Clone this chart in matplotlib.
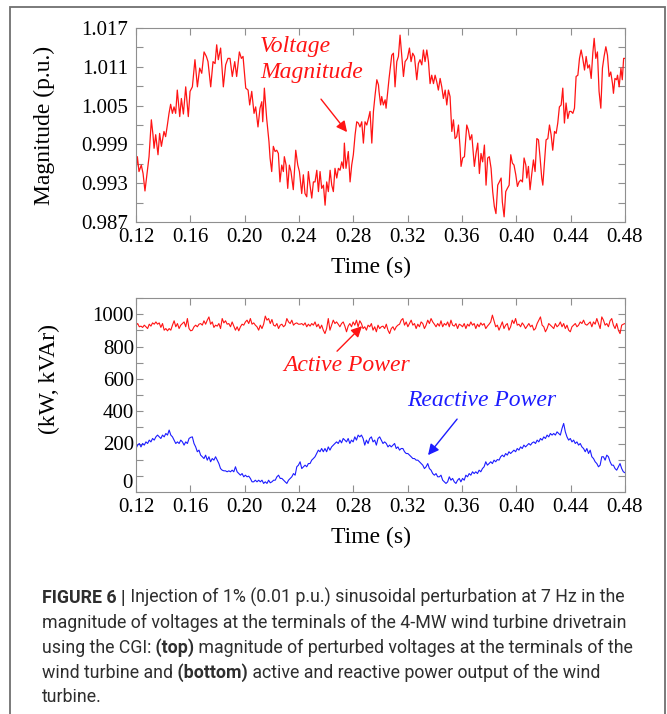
import numpy as np
import matplotlib
matplotlib.use("Agg")
import matplotlib.pyplot as plt
from matplotlib.ticker import FixedLocator, MultipleLocator, FormatStrFormatter
from matplotlib.patches import Rectangle
from matplotlib.transforms import ScaledTranslation

# ---- data ----
# top panel: voltage magnitude (p.u.)
t_volt = [
    0.1200, 0.1210, 0.1222, 0.1239, 0.1252, 0.1266, 0.1283, 0.1296, 0.1313, 0.1325,
    0.1333, 0.1345, 0.1362, 0.1374, 0.1387, 0.1406, 0.1418, 0.1431, 0.1443, 0.1455,
    0.1468, 0.1480, 0.1492, 0.1504, 0.1522, 0.1534, 0.1549, 0.1566, 0.1585, 0.1598,
    0.1615, 0.1634, 0.1652, 0.1669, 0.1684, 0.1701, 0.1718, 0.1730, 0.1750, 0.1767,
    0.1782, 0.1794, 0.1806, 0.1823, 0.1843, 0.1860, 0.1877, 0.1892, 0.1909, 0.1927,
    0.1941, 0.1961, 0.1976, 0.1988, 0.2008, 0.2025, 0.2037, 0.2052, 0.2069, 0.2081,
    0.2098,
    0.2113, 0.2126, 0.2133, 0.2145, 0.2162, 0.2179, 0.2187, 0.2199, 0.2211, 0.2224,
    0.2236, 0.2248, 0.2260, 0.2273, 0.2285, 0.2292, 0.2305, 0.2317, 0.2329, 0.2341,
    0.2358, 0.2376, 0.2391, 0.2403, 0.2420, 0.2432, 0.2444, 0.2457, 0.2469, 0.2481,
    0.2494, 0.2506, 0.2518, 0.2531, 0.2543, 0.2555, 0.2567, 0.2580, 0.2592, 0.2604,
    0.2616, 0.2629, 0.2641, 0.2653, 0.2665, 0.2678, 0.2690, 0.2702, 0.2715, 0.2727,
    0.2734, 0.2746, 0.2763, 0.2776, 0.2788, 0.2800, 0.2813, 0.2825, 0.2837, 0.2849,
    0.2862, 0.2874, 0.2886, 0.2899, 0.2911, 0.2923, 0.2936, 0.2948, 0.2960, 0.2973,
    0.2985,
    0.2989, 0.3001, 0.3009, 0.3021, 0.3034, 0.3041, 0.3063, 0.3083, 0.3095, 0.3107,
    0.3120, 0.3132, 0.3144, 0.3156, 0.3169, 0.3181, 0.3198, 0.3213, 0.3225, 0.3237,
    0.3250, 0.3267, 0.3279, 0.3291, 0.3304, 0.3316, 0.3328, 0.3341, 0.3353, 0.3365,
    0.3377, 0.3390, 0.3402, 0.3414, 0.3426, 0.3439, 0.3451, 0.3463, 0.3476, 0.3488,
    0.3500, 0.3512, 0.3525, 0.3537, 0.3549, 0.3561, 0.3574, 0.3586, 0.3593, 0.3605,
    0.3618, 0.3635, 0.3647, 0.3659, 0.3672, 0.3684, 0.3691, 0.3703, 0.3716, 0.3728,
    0.3740, 0.3752, 0.3765, 0.3777, 0.3789, 0.3801, 0.3814, 0.3826, 0.3838, 0.3850,
    0.3863, 0.3875,
    0.3888, 0.3897, 0.3910, 0.3922, 0.3934, 0.3947, 0.3959, 0.3971, 0.3983, 0.3996,
    0.4008, 0.4020, 0.4033, 0.4045, 0.4057, 0.4070, 0.4077, 0.4089, 0.4101, 0.4114,
    0.4126, 0.4138, 0.4151, 0.4163, 0.4175, 0.4187, 0.4195, 0.4207, 0.4219, 0.4232,
    0.4244, 0.4256, 0.4268, 0.4281, 0.4293, 0.4305, 0.4317, 0.4330, 0.4342, 0.4354,
    0.4366, 0.4379, 0.4391, 0.4403, 0.4416, 0.4428, 0.4440, 0.4453, 0.4465, 0.4477,
    0.4489, 0.4502, 0.4514, 0.4526, 0.4538, 0.4551, 0.4563, 0.4573, 0.4585, 0.4597,
    0.4609, 0.4622, 0.4634, 0.4646, 0.4659, 0.4671, 0.4683, 0.4695, 0.4708, 0.4715,
    0.4726, 0.4738, 0.4745, 0.4757, 0.4770, 0.4780, 0.4790, 0.4800,
]
volt = [
    0.9948, 0.9971, 0.9948, 0.9958, 0.9945, 0.9918, 0.9948, 0.9971, 1.0028, 1.0005,
    0.9984, 1.0005, 0.9974, 1.0007, 0.9987, 1.0010, 1.0002, 1.0020, 1.0038, 1.0052,
    1.0038, 1.0048, 1.0038, 1.0074, 1.0033, 1.0061, 1.0037, 1.0079, 1.0033, 1.0072,
    1.0079, 1.0121, 1.0079, 1.0108, 1.0100, 1.0133, 1.0126, 1.0118, 1.0079, 1.0118,
    1.0115, 1.0144, 1.0121, 1.0139, 1.0079, 1.0113, 1.0123, 1.0123, 1.0095, 1.0118,
    1.0095, 1.0133, 1.0123, 1.0126, 1.0077, 1.0074, 1.0051, 1.0072, 1.0038, 1.0048,
    1.0017,
    1.0046, 1.0056, 1.0025, 1.0077, 1.0030, 0.9994, 0.9969, 0.9948, 0.9987, 0.9979,
    0.9981, 0.9976, 0.9932, 0.9958, 0.9948, 0.9971, 0.9958, 0.9922, 0.9958, 0.9948,
    0.9920, 0.9981, 0.9958, 0.9948, 0.9914, 0.9943, 0.9914, 0.9909, 0.9948, 0.9927,
    0.9907, 0.9932, 0.9932, 0.9950, 0.9917, 0.9948, 0.9922, 0.9927, 0.9896, 0.9932,
    0.9917, 0.9950, 0.9927, 0.9917, 0.9953, 0.9938, 0.9953, 0.9950, 0.9963, 0.9953,
    0.9992, 0.9953, 0.9979, 0.9932, 0.9958, 0.9974, 1.0005, 1.0025, 1.0023, 1.0017,
    1.0025, 0.9992, 1.0025, 1.0020, 1.0030, 1.0041, 0.9992, 1.0041, 1.0066, 1.0090,
    1.0082,
    1.0072, 1.0051, 1.0064, 1.0051, 1.0059, 1.0046, 1.0092, 1.0128, 1.0131, 1.0079,
    1.0118, 1.0126, 1.0159, 1.0128, 1.0095, 1.0118, 1.0123, 1.0139, 1.0118, 1.0131,
    1.0126, 1.0090, 1.0115, 1.0121, 1.0113, 1.0136, 1.0118, 1.0136, 1.0118, 1.0084,
    1.0097, 1.0084, 1.0097, 1.0087, 1.0074, 1.0092, 1.0079, 1.0061, 1.0074, 1.0051,
    1.0074, 1.0064, 1.0010, 1.0028, 0.9999, 1.0002, 1.0020, 0.9984, 0.9956, 0.9969,
    0.9971, 1.0020, 1.0012, 0.9997, 1.0005, 0.9974, 0.9956, 0.9976, 0.9992, 0.9945,
    0.9976, 0.9963, 0.9989, 0.9927, 0.9969, 0.9971, 0.9953, 0.9917, 0.9894, 0.9883,
    0.9927, 0.9932,
    0.9938, 0.9901, 0.9878, 0.9917, 0.9922, 0.9927, 0.9974, 0.9961, 0.9958, 0.9943,
    0.9925, 0.9932, 0.9935, 0.9932, 0.9969, 0.9958, 0.9938, 0.9956, 0.9920, 0.9945,
    0.9966, 0.9948, 0.9999, 0.9997, 0.9969, 0.9938, 0.9927, 0.9963, 0.9997, 0.9999,
    1.0020, 1.0005, 0.9981, 1.0010, 1.0007, 1.0023, 1.0048, 1.0051, 1.0077, 1.0023,
    1.0054, 1.0030, 1.0041, 1.0041, 1.0038, 1.0046, 1.0095, 1.0097, 1.0123, 1.0136,
    1.0123, 1.0105, 1.0126, 1.0108, 1.0113, 1.0092, 1.0131, 1.0154, 1.0123, 1.0133,
    1.0072, 1.0046, 1.0108, 1.0126, 1.0141, 1.0128, 1.0095, 1.0102, 1.0084, 1.0069,
    1.0092, 1.0090, 1.0097, 1.0079, 1.0108, 1.0090, 1.0123, 1.0123,
]

# bottom panel: active (kW) and reactive (kVAr) power, sampled evenly over 0.12-0.48 s
active = [
    932, 942, 922, 926, 918, 932, 922, 911, 938, 926, 946, 938, 952, 938, 946, 918, 942, 901, 911, 897,
    911, 901, 932, 959, 922, 942, 911, 932, 942, 952, 922, 973, 911, 897, 901, 922, 932, 922, 938, 942,
    932, 959, 938, 963, 983, 938, 952, 918, 932, 926, 942, 911, 973, 946, 959, 938, 942, 922, 952, 926,
    901, 922, 897, 922, 938, 932, 952, 963, 942, 973, 938, 946, 932, 922, 901, 932, 911, 938, 988, 963,
    973, 942, 967, 932, 926, 942, 911, 932, 938, 922, 932, 973, 952, 942, 963, 932, 942, 946, 938,
    938, 942, 932, 946, 922, 938, 926, 942, 932, 952, 922, 938, 911, 932, 901, 880, 911, 973, 901, 932,
    963, 942, 952, 938, 922, 942, 952, 926, 891, 926, 942, 922, 952, 932, 963, 922, 959, 942, 911, 922,
    901, 932, 922, 942, 901, 922, 891, 932, 911, 922, 926, 911, 938, 901, 880, 911, 922, 901, 922, 932,
    938, 963, 973, 932, 952, 922, 942, 963, 932, 942, 911, 938, 922, 952, 942, 911, 932, 963, 942, 973,
    952, 938, 922, 942, 926, 959, 922, 942, 932, 952, 922, 963, 932, 926, 942, 911, 938,
    932, 922, 942, 911, 938, 926, 952, 932, 942, 911, 938, 922, 946, 932, 942, 911, 926, 938, 952, 994,
    959, 922, 932, 901, 926, 952, 911, 932, 942, 901, 922, 963, 942, 973, 932, 938, 922, 946, 932, 911,
    926, 942, 922, 932, 901, 911, 942, 963, 983, 932, 922, 891, 911, 942, 932, 922, 911, 942, 922, 932,
    952, 922, 942, 911,
    932, 901, 891, 922, 932, 942, 922, 932, 952, 942, 963, 938, 932, 942, 952, 922, 952, 938, 973, 942,
    911, 983, 963, 932, 942, 922, 959, 973, 932, 911, 942, 901, 880, 932, 938, 942,
]
reactive = [
    169, 190, 200, 179, 200, 190, 210, 200, 221, 210, 231, 221, 241, 252, 241, 231, 252, 241, 262, 252,
    283, 252, 241, 221, 200, 210, 200, 221, 210, 190, 210, 200, 231, 238, 241, 200, 179, 149, 159, 128,
    118, 107, 128, 97, 118, 87, 107, 97, 118, 97, 76, 45, 35, 31, 31, 25, 31, 25, 35, 25,
    56, 25, 14, 4, 14, -6, 4, -6, -2, -16, -37, -37, -27, -37, -27, -37, -27, -47, -37, -47,
    -27, -43, -37, -27, -27, -6, 4, -16, -16, -27, -37, -47, -27, -16, -6, 14, 4, 56, 66,
    87, 45, 56, 66, 56, 76, 76, 97, 107, 118, 138, 159, 149, 169, 149, 169, 149, 179, 159, 179,
    190, 200, 210, 200, 221, 204, 231, 221, 210, 231, 200, 221, 210, 241, 221, 252, 241, 252, 231, 190,
    221, 200, 231, 241, 210, 221, 190, 231, 241, 221, 200, 210, 200, 179, 190, 179, 190, 200, 169, 179,
    159, 169, 169, 149, 138, 138, 128, 118, 107, 107, 97, 97, 87, 76, 66, 45, 56, 76, 45, 35,
    14, 4, 14, -6, -6, 4, -27, -37, -47, -37, -6, -27, -16, -37, -47, -27, -16,
    -37, -16, -27, 4, -6, 14, 4, 25, 14, 25, 14, 35, 25, 45, 56, 87, 66, 76, 87, 76,
    97, 87, 101, 97, 118, 128, 118, 138, 128, 149, 138, 149, 159, 149, 169, 159, 179, 169, 190, 179,
    190, 200, 190, 204, 210, 200, 221, 210, 231, 221, 241, 231, 252, 241, 262, 252, 262, 252, 272, 262,
    252, 293, 324, 272,
    241, 221, 231, 210, 221, 200, 210, 190, 200, 179, 169, 149, 169, 138, 159, 118, 107, 87, 76, 56,
    66, 118, 118, 97, 128, 118, 87, 66, 66, 45, 35, 56, 76, 45, 25, 19,
]
t_pow = np.linspace(0.12, 0.48, len(reactive))

x_ticks = [0.12, 0.16, 0.20, 0.24, 0.28, 0.32, 0.36, 0.40, 0.44, 0.48]
volt_ticks = [0.987, 0.993, 0.999, 1.005, 1.011, 1.017]
volt_minor = [0.990, 0.996, 1.002, 1.008, 1.014]
pow_ticks = [0, 200, 400, 600, 800, 1000]

caption = [
    [("FIGURE 6 |", True), (" Injection of 1% (0.01 p.u.) sinusoidal perturbation at 7 Hz in the", False)],
    [("magnitude of voltages at the terminals of the 4-MW wind turbine drivetrain", False)],
    [("using the CGI:", False), (" (top)", True), (" magnitude of perturbed voltages at the terminals of the", False)],
    [("wind turbine and", False), (" (bottom)", True), (" active and reactive power output of the wind", False)],
    [("turbine.", False)],
]

# ---- figure ----
W, H = 667, 714
serif = ["Liberation Serif", "DejaVu Serif"]
plt.rcParams["font.family"] = serif
fig = plt.figure(figsize=(W / 100, H / 100), dpi=100)

red = "#ff1414"
blue = "#1c1cff"
grey = "#8f8f8f"

ax1 = fig.add_axes([136 / W, 1 - 222 / H, 489 / W, 194 / H])
ax2 = fig.add_axes([136 / W, 1 - 492 / H, 489 / W, 194 / H])

for ax in (ax1, ax2):
    for s in ax.spines.values():
        s.set_color(grey)
        s.set_linewidth(0.8)
    ax.tick_params(which="both", direction="in", top=True, right=True,
                   length=5, width=0.8, color=grey, labelsize=15, labelcolor="black")
    ax.set_xlim(0.12, 0.48)
    ax.set_xticks(x_ticks)
    ax.xaxis.set_major_formatter(FormatStrFormatter("%.2f"))

# top panel
ax1.plot(t_volt, volt, color=red, lw=0.9)
ax1.set_ylim(0.987, 1.017)
ax1.set_yticks(volt_ticks)
ax1.yaxis.set_minor_locator(FixedLocator(volt_minor))
ax1.yaxis.set_major_formatter(FormatStrFormatter("%.3f"))
ax1.tick_params(axis="y", pad=5.5)
ax1.tick_params(axis="x", pad=4)
ax1.set_xlabel("Time (s)", fontsize=17)
ax1.xaxis.set_label_coords(0.48, -0.178)
ax1.set_ylabel("Magnitude (p.u.)", fontsize=17)
ax1.yaxis.set_label_coords(-0.166, 0.5)

ax1.text(0.2113, 1.0121, "Voltage\nMagnitude", color=red, fontsize=17, style="italic",
         ha="left", va="center", linespacing=1.3)
ax1.annotate("", xy=(0.2754, 1.0009), xytext=(0.2562, 1.0060),
             arrowprops=dict(arrowstyle="-|>", color=red, lw=1.0, mutation_scale=16,
                             shrinkA=0, shrinkB=0))

# bottom panel
ax2.plot(t_pow, active, color=red, lw=0.8)
ax2.plot(t_pow, reactive, color=blue, lw=0.8)
ax2.set_ylim(-100, 1100)
ax2.set_yticks(pow_ticks)
ax2.set_yticklabels([""] + [str(v) for v in pow_ticks[1:]])
ax2.yaxis.set_minor_locator(MultipleLocator(100))
ax2.tick_params(axis="y", pad=1.5)
ax2.tick_params(axis="x", pad=4.5)
# the "0" label sits a little below its tick in the original
ax2.text(0, 0, "0", fontsize=15, ha="right", va="center",
         transform=ax2.get_yaxis_transform() + ScaledTranslation(-0.03, -0.08, fig.dpi_scale_trans))
ax2.set_xlabel("Time (s)", fontsize=17)
ax2.xaxis.set_label_coords(0.48, -0.178)
ax2.set_ylabel("(kW, kVAr)", fontsize=17)
ax2.yaxis.set_label_coords(-0.155, 0.582)

ax2.text(0.2754, 685, "Active Power", color=red, fontsize=17, style="italic",
         ha="center", va="center")
ax2.annotate("", xy=(0.2864, 926), xytext=(0.2680, 771),
             arrowprops=dict(arrowstyle="-|>", color=red, lw=1.0, mutation_scale=16,
                             shrinkA=0, shrinkB=0))
ax2.text(0.3748, 468, "Reactive Power", color=blue, fontsize=17, style="italic",
         ha="center", va="center")
ax2.annotate("", xy=(0.3350, 128), xytext=(0.3564, 351),
             arrowprops=dict(arrowstyle="-|>", color=blue, lw=1.0, mutation_scale=16,
                             shrinkA=0, shrinkB=0))

# outer frame
fig.add_artist(Rectangle((10 / W, -0.05), (665 - 10) / W, (714 - 7) / H + 0.05,
                         transform=fig.transFigure, fill=False, ec="#707070", lw=1.3))

# caption, laid out piece by piece so the bold runs follow the plain text
cap_family = ["Roboto", "Liberation Sans", "DejaVu Sans"]
cap_color = "#2e2e2e"
renderer = fig.canvas.get_renderer()
baselines = [603, 628, 653, 678, 702]
cap_x = 42


def draw_caption(size):
    made = []
    widths = []
    for line, yb in zip(caption, baselines):
        x = cap_x
        for txt, bold in line:
            t = fig.text(x / W, 1 - yb / H, txt, fontsize=size, family=cap_family,
                         fontweight="bold" if bold else "normal", color=cap_color,
                         ha="left", va="baseline")
            x += t.get_window_extent(renderer).width
            made.append(t)
        widths.append(x - cap_x)
    return made, widths


texts, widths = draw_caption(12)
size = min(13.2, 12 * 580 / widths[0])
for t in texts:
    t.remove()
draw_caption(size)

fig.savefig("out.png", dpi=100)
